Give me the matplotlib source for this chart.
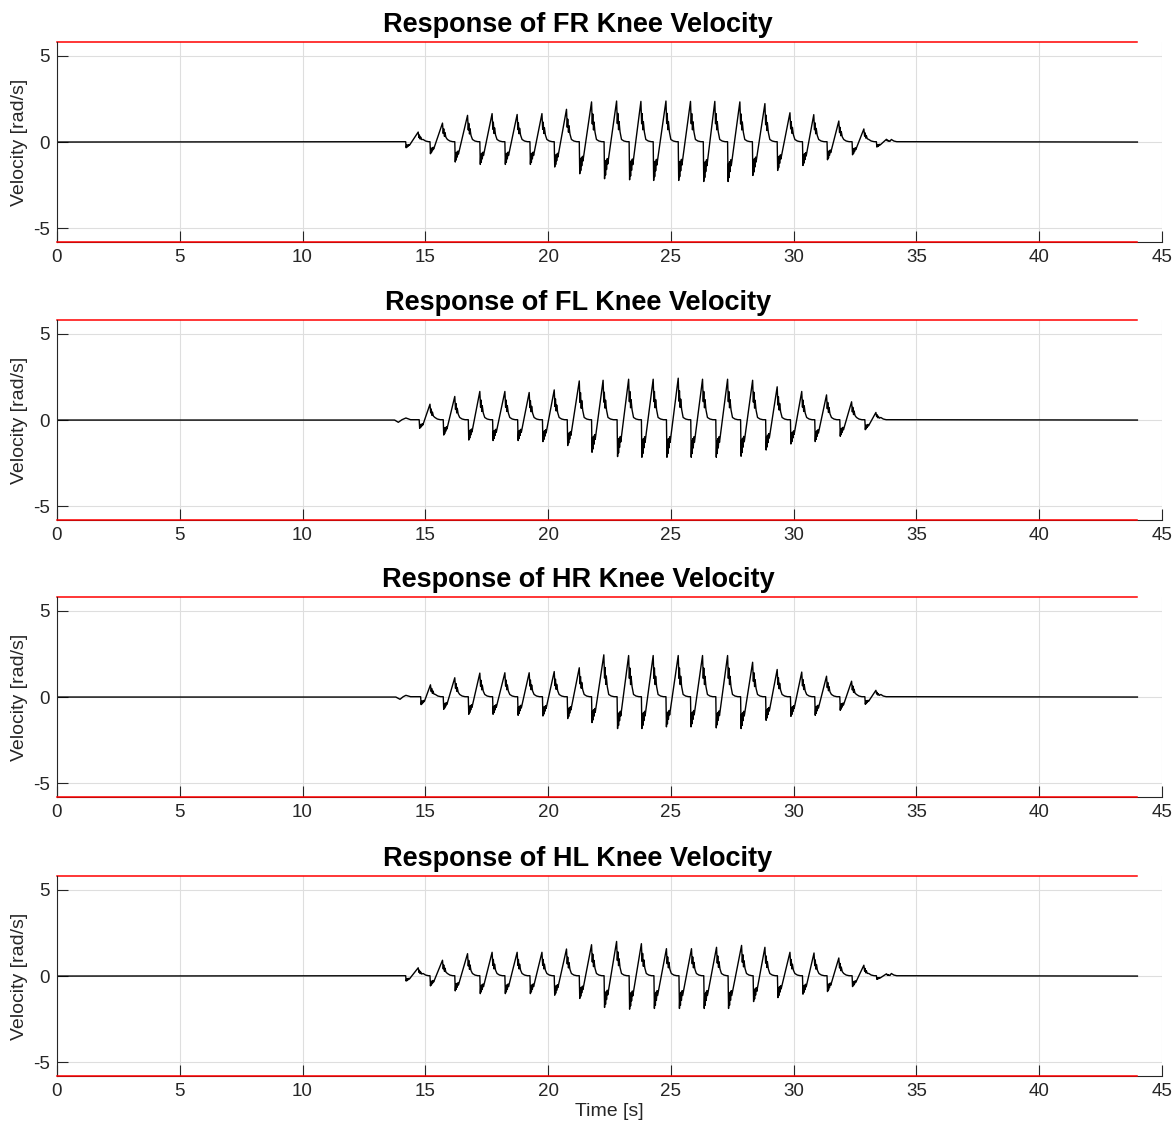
import matplotlib
matplotlib.use('Agg')
import matplotlib.pyplot as plt

matplotlib.rcParams['font.family'] = ['Liberation Sans', 'DejaVu Sans']
matplotlib.rcParams['axes.unicode_minus'] = False

# limits drawn as red lines
vel_limit = 5.8
t_end = 44.0

# small pre-motion wiggles (time, value)
fr_pre_t = []
fr_pre_v = []
fl_pre_t = [13.75, 13.90, 14.05, 14.21, 14.40]
fl_pre_v = [0.0, -0.13, 0.02, 0.12, 0.02]
hr_pre_t = [13.80, 13.97, 14.10, 14.21, 14.40]
hr_pre_v = [0.0, -0.13, 0.02, 0.10, 0.02]
hl_pre_t = []
hl_pre_v = []

# each step: drop to trough, then ramp up to peak
fr_drop_t = [14.20, 15.19, 16.20, 17.22, 18.24, 19.26, 20.25, 21.27, 22.28, 23.30,
             24.28, 25.30, 26.32, 27.31, 28.32, 29.33, 30.36, 31.36, 32.38, 33.37]
fr_drop_v = [-0.33, -0.68, -1.16, -1.30, -1.30, -1.30, -1.45, -1.84, -2.13, -2.19,
             -2.23, -2.23, -2.29, -2.29, -1.94, -1.65, -1.36, -1.03, -0.74, -0.29]
fr_peak_t = [14.71, 15.70, 16.72, 17.72, 18.74, 19.75, 20.75, 21.77, 22.79, 23.78,
             24.80, 25.80, 26.79, 27.81, 28.83, 29.85, 30.82, 31.84, 32.86, 33.78]
fr_peak_v = [0.58, 1.10, 1.55, 1.65, 1.60, 1.65, 1.90, 2.33, 2.38, 2.36,
             2.38, 2.36, 2.36, 2.33, 2.23, 1.70, 1.59, 1.22, 0.76, 0.16]

fl_drop_t = [14.75, 15.73, 16.75, 17.74, 18.76, 19.77, 20.78, 21.77, 22.81, 23.80,
             24.82, 25.81, 26.83, 27.84, 28.86, 29.87, 30.86, 31.88, 32.90]
fl_drop_v = [-0.48, -0.87, -1.16, -1.19, -1.19, -1.25, -1.48, -1.87, -2.12, -2.16,
             -2.16, -2.16, -2.16, -2.10, -1.74, -1.39, -1.25, -0.94, -0.56]
fl_peak_t = [15.19, 16.20, 17.22, 18.24, 19.23, 20.25, 21.27, 22.24, 23.28, 24.28,
             25.30, 26.29, 27.31, 28.33, 29.33, 30.33, 31.34, 32.36, 33.35]
fl_peak_v = [0.92, 1.37, 1.66, 1.66, 1.60, 1.75, 2.27, 2.31, 2.37, 2.37,
             2.43, 2.37, 2.37, 2.31, 1.93, 1.66, 1.46, 1.06, 0.44]

hr_drop_t = [14.81, 15.73, 16.75, 17.74, 18.76, 19.77, 20.78, 21.77, 22.81, 23.80,
             24.80, 25.80, 26.83, 27.84, 28.86, 29.87, 30.86, 31.88, 32.90]
hr_drop_v = [-0.44, -0.71, -1.00, -1.00, -1.06, -1.10, -1.25, -1.48, -1.83, -1.83,
             -1.73, -1.73, -1.79, -1.83, -1.35, -1.12, -1.06, -0.77, -0.42]
hr_peak_t = [15.21, 16.20, 17.22, 18.24, 19.23, 20.25, 21.27, 22.27, 23.28, 24.28,
             25.30, 26.29, 27.31, 28.33, 29.33, 30.33, 31.34, 32.36, 33.35]
hr_peak_v = [0.71, 1.12, 1.39, 1.41, 1.41, 1.48, 1.70, 2.45, 2.41, 2.41,
             2.41, 2.41, 2.41, 2.02, 1.60, 1.45, 1.21, 0.92, 0.39]

hl_drop_t = [14.20, 15.19, 16.20, 17.22, 18.24, 19.26, 20.25, 21.27, 22.28, 23.30,
             24.31, 25.33, 26.34, 27.33, 28.35, 29.34, 30.36, 31.36, 32.38, 33.37]
hl_drop_v = [-0.29, -0.57, -0.86, -1.02, -1.02, -1.02, -1.11, -1.30, -1.82, -1.92,
             -1.88, -1.88, -1.88, -1.88, -1.48, -1.25, -1.05, -0.90, -0.61, -0.19]
hl_peak_t = [14.71, 15.70, 16.72, 17.72, 18.74, 19.75, 20.75, 21.77, 22.79, 23.80,
             24.82, 25.84, 26.86, 27.88, 28.83, 29.85, 30.83, 31.84, 32.86, 33.78]
hl_peak_v = [0.48, 0.92, 1.30, 1.38, 1.38, 1.38, 1.57, 1.82, 2.01, 1.88,
             1.59, 1.59, 1.67, 1.78, 1.67, 1.38, 1.34, 1.05, 0.63, 0.13]

legs = ['FR', 'FL', 'HR', 'HL']
pre_t = [fr_pre_t, fl_pre_t, hr_pre_t, hl_pre_t]
pre_v = [fr_pre_v, fl_pre_v, hr_pre_v, hl_pre_v]
drop_t = [fr_drop_t, fl_drop_t, hr_drop_t, hl_drop_t]
drop_v = [fr_drop_v, fl_drop_v, hr_drop_v, hl_drop_v]
peak_t = [fr_peak_t, fl_peak_t, hr_peak_t, hl_peak_t]
peak_v = [fr_peak_v, fl_peak_v, hr_peak_v, hl_peak_v]


def knee_trace(p_t, p_v, d_t, d_v, k_t, k_v):
    # polyline through the read-off points, with the chatter after each jump
    t = [0.0] + list(p_t)
    v = [0.0] + list(p_v)
    for td, q, tp, p in zip(d_t, d_v, k_t, k_v):
        t += [td, td + 0.02, td + 0.04, td + 0.06, td + 0.08, td + 0.10, td + 0.13, td + 0.15]
        v += [0.02, q, 0.55 * q, 0.9 * q, 0.5 * q, 0.75 * q, 0.45 * q, 0.6 * q]
        t += [tp, tp + 0.03, tp + 0.05, tp + 0.08, tp + 0.10, tp + 0.14, tp + 0.2, tp + 0.3, tp + 0.42]
        v += [p, 0.45 * p, 0.7 * p, 0.3 * p, 0.5 * p, 0.25 * p, 0.15, 0.06, 0.02]
    t += [t_end]
    v += [0.0]
    return t, v


fig = plt.figure(figsize=(11.75, 11.26), dpi=100)
bottoms = [0.7851, 0.5382, 0.2922, 0.0444]
dark = '#262626'

for i in range(4):
    ax = fig.add_axes([0.0485, bottoms[i], 0.9404, 0.1775])
    t, v = knee_trace(pre_t[i], pre_v[i], drop_t[i], drop_v[i], peak_t[i], peak_v[i])
    ax.plot(t, v, color='black', linewidth=1.0)
    ax.plot([0, t_end], [vel_limit, vel_limit], color='red', linewidth=1.1, clip_on=False)
    ax.plot([0, t_end], [-vel_limit, -vel_limit], color='red', linewidth=1.1, clip_on=False, zorder=5)
    ax.set_xlim(0, 45)
    ax.set_ylim(-vel_limit, vel_limit)
    ax.set_xticks(range(0, 46, 5))
    ax.set_yticks([-5, 0, 5])
    ax.grid(True, color='#dedede', linewidth=0.8)
    ax.set_axisbelow(True)
    for s in ['top', 'right']:
        ax.spines[s].set_visible(False)
    for s in ['left', 'bottom']:
        ax.spines[s].set_color(dark)
        ax.spines[s].set_linewidth(0.8)
    ax.tick_params(direction='in', length=8, width=0.8, color=dark,
                   labelcolor=dark, labelsize=13.5)
    ax.tick_params(axis='x', pad=5)
    ax.tick_params(axis='y', pad=5)
    ax.set_ylabel('Velocity [rad/s]', fontsize=14, color=dark)
    ax.yaxis.set_label_coords(-0.026, 0.5)
    ax.set_title('Response of %s Knee Velocity' % legs[i], fontsize=19.5,
                 fontweight='bold', x=0.4715, pad=7)
    if i == 3:
        ax.set_xlabel('Time [s]', fontsize=14, color=dark, labelpad=2)

plt.savefig('out.png', dpi=100)
